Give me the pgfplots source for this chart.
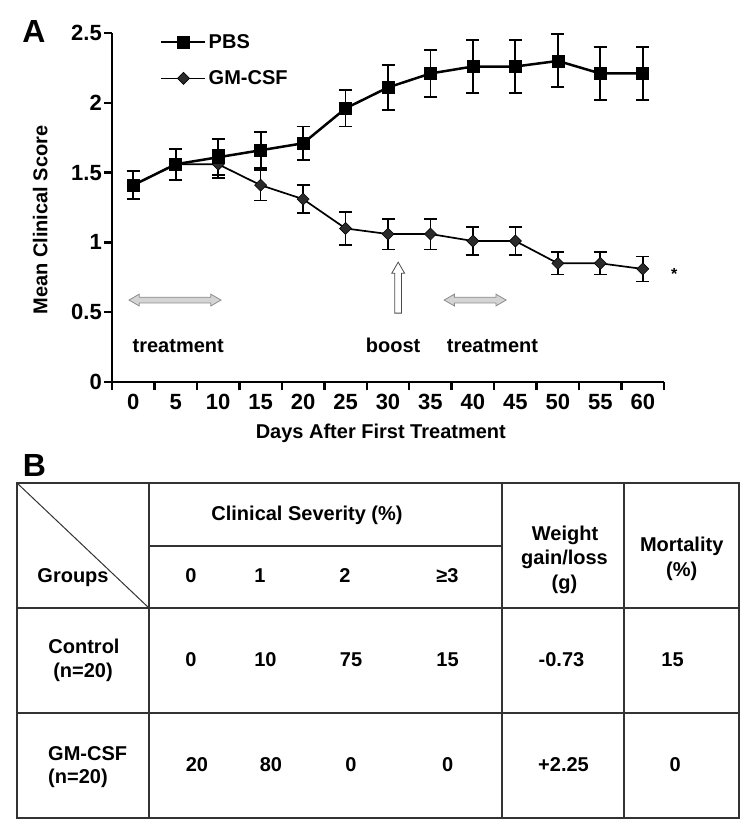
\documentclass[border=0pt]{standalone}
\usepackage{fontspec}
\setmainfont{Liberation Sans}
\usepackage{pgfplots}
\usepackage{pgfplotstable}
\pgfplotsset{compat=1.18}
\usetikzlibrary{shapes.arrows}

\definecolor{tblline}{HTML}{333333}
\definecolor{dmnd}{HTML}{2B2B2B}
\definecolor{arrfill}{HTML}{D4D4D4}
\definecolor{arrline}{HTML}{8C8C8C}

\newcommand\lbl{\fontsize{20}{24}\selectfont\bfseries}

% square diamond for GM-CSF
\pgfdeclareplotmark{dia}{%
  \pgfpathmoveto{\pgfqpoint{0pt}{\pgfplotmarksize}}%
  \pgfpathlineto{\pgfqpoint{\pgfplotmarksize}{0pt}}%
  \pgfpathlineto{\pgfqpoint{0pt}{-\pgfplotmarksize}}%
  \pgfpathlineto{\pgfqpoint{-\pgfplotmarksize}{0pt}}%
  \pgfpathclose\pgfusepathqfillstroke}

\pgfplotstableread{
day score err
0  1.41 0.10
5  1.56 0.11
10 1.61 0.13
15 1.66 0.13
20 1.71 0.12
25 1.96 0.13
30 2.11 0.16
35 2.21 0.17
40 2.26 0.19
45 2.26 0.19
50 2.30 0.19
55 2.21 0.19
60 2.21 0.19
}\pbs

\pgfplotstableread{
day score err
0  1.41 0.10
5  1.56 0.11
10 1.56 0.10
15 1.41 0.11
20 1.31 0.10
25 1.10 0.12
30 1.06 0.11
35 1.06 0.11
40 1.01 0.10
45 1.01 0.10
50 0.85 0.08
55 0.85 0.08
60 0.81 0.09
}\gmcsf

\begin{document}
\begin{tikzpicture}

\begin{axis}[
  at={(112pt,-382pt)}, anchor=south west,
  scale only axis, width=552pt, height=349pt,
  xmin=-2.5, xmax=62.5, ymin=0, ymax=2.5,
  axis lines=left,
  axis line style={-, line width=2.5pt, black},
  tick align=outside, major tick length=8pt, minor tick length=8pt,
  tick style={line width=2.5pt, black},
  xtick={0,5,...,60},
  minor xtick={-2.5,2.5,...,62.5},
  major x tick style={draw=none},
  ytick={0,0.5,1,1.5,2,2.5},
  tick label style={font=\fontsize{22}{24}\selectfont\bfseries},
  /pgf/number format/assume math mode=true,
  yticklabel style={inner xsep=2pt},
  xticklabel style={inner ysep=4pt},
  xlabel={Days After First Treatment},
  ylabel={Mean Clinical Score},
  label style={font=\lbl},
  xlabel style={at={(axis description cs:0.487,-0.146)}, anchor=center},
  ylabel style={at={(axis description cs:-0.130,0.464)}, anchor=center},
  clip=false,
  reverse legend,
  legend style={draw=none, fill=none, font=\lbl,
    at={(axis description cs:0.087,1.003)}, anchor=north west,
    inner sep=0pt, row sep=17pt},
  legend cell align=left,
  legend image code/.code={\draw[mark repeat=2, mark phase=2, #1]
    plot coordinates {(0pt,0pt) (22pt,0pt) (44pt,0pt)};},
]
\addplot[black, line width=1.7pt, mark=dia, mark size=6pt,
  mark options={solid, fill=dmnd, draw=black, line width=0.6pt},
  error bars/.cd, y dir=both, y explicit,
  error bar style={line width=1.7pt, black},
  error mark options={rotate=90, mark size=6.5pt, line width=1.7pt, black}]
  table[x=day, y=score, y error=err] {\gmcsf};
\addlegendentry{GM-CSF}

\addplot[black, line width=2.5pt, mark=square*, mark size=6pt,
  mark options={solid, fill=black, draw=black, line width=0.6pt},
  error bars/.cd, y dir=both, y explicit,
  error bar style={line width=1.9pt, black},
  error mark options={rotate=90, mark size=6.5pt, line width=1.9pt, black}]
  table[x=day, y=score, y error=err] {\pbs};
\addlegendentry{PBS}

% treatment periods and boost
\node[double arrow, draw=arrline, fill=arrfill, line width=0.8pt,
  minimum height=92pt, inner xsep=0pt, inner ysep=2.5pt,
  double arrow head extend=3pt, double arrow tip angle=60]
  at (axis cs:4.92,0.587) {};
\node[double arrow, draw=arrline, fill=arrfill, line width=0.8pt,
  minimum height=62pt, inner xsep=0pt, inner ysep=2.5pt,
  double arrow head extend=3pt, double arrow tip angle=60]
  at (axis cs:40.26,0.587) {};
\node[single arrow, draw=black!70, fill=white, line width=0.8pt,
  minimum height=51pt, inner xsep=0pt, inner ysep=3pt,
  single arrow head extend=3pt, single arrow tip angle=60, rotate=90]
  at (axis cs:31.2,0.655) {};

\node[font=\lbl] at (axis cs:5.3,0.26) {treatment};
\node[font=\lbl] at (axis cs:30.6,0.26) {boost};
\node[font=\lbl] at (axis cs:42.3,0.26) {treatment};
\node[font=\fontsize{16}{18}\selectfont\bfseries] at (axis cs:63.7,0.777) {*};
\end{axis}

\begin{scope}[x=1pt,y=1pt]
% panel letters
\node[font=\fontsize{32}{36}\selectfont\bfseries] at (34,-31) {A};
\node[font=\fontsize{32}{36}\selectfont\bfseries] at (34.5,-465.5) {B};

% table B
\begin{scope}[tblline, line width=1.5pt]
  \draw (17,-483) rectangle (739,-818);
  \draw (149,-483) -- (149,-818);
  \draw (502,-483) -- (502,-818);
  \draw (624,-483) -- (624,-818);
  \draw (149,-546) -- (502,-546);
  \draw (17,-608) -- (739,-608);
  \draw (17,-713) -- (739,-713);
  \draw[line width=1pt] (17,-483) -- (149,-608);
\end{scope}

\begin{scope}[every node/.style={font=\lbl, inner sep=0pt, anchor=base}]
  \node at (307,-520) {Clinical Severity (\%)};
  \node at (73,-582) {Groups};
  \node at (191,-582) {0};
  \node at (260,-582) {1};
  \node at (345,-582) {2};
  \node at (447.5,-582) {≥3};
  \node at (565,-540) {Weight};
  \node at (564.5,-564.5) {gain/loss};
  \node at (564.5,-589) {(g)};
  \node at (681.7,-551) {Mortality};
  \node at (681.7,-576) {(\%)};

  \node at (84,-653) {Control};
  \node at (83,-677) {(n=20)};
  \node at (191,-666) {0};
  \node at (265.5,-666) {10};
  \node at (351,-666) {75};
  \node at (447.5,-666) {15};
  \node at (561.5,-666) {-0.73};
  \node at (672.5,-666) {15};

  \node[anchor=base west] at (48,-760) {GM-CSF};
  \node[anchor=base west] at (48,-783.3) {(n=20)};
  \node at (197,-771) {20};
  \node at (271,-771) {80};
  \node at (351,-771) {0};
  \node at (447.7,-771) {0};
  \node at (563.5,-771) {+2.25};
  \node at (675.3,-771) {0};
\end{scope}

% fixes the page to the reference size
\path (0,0) rectangle (750,-833);
\end{scope}
\end{tikzpicture}
\end{document}
